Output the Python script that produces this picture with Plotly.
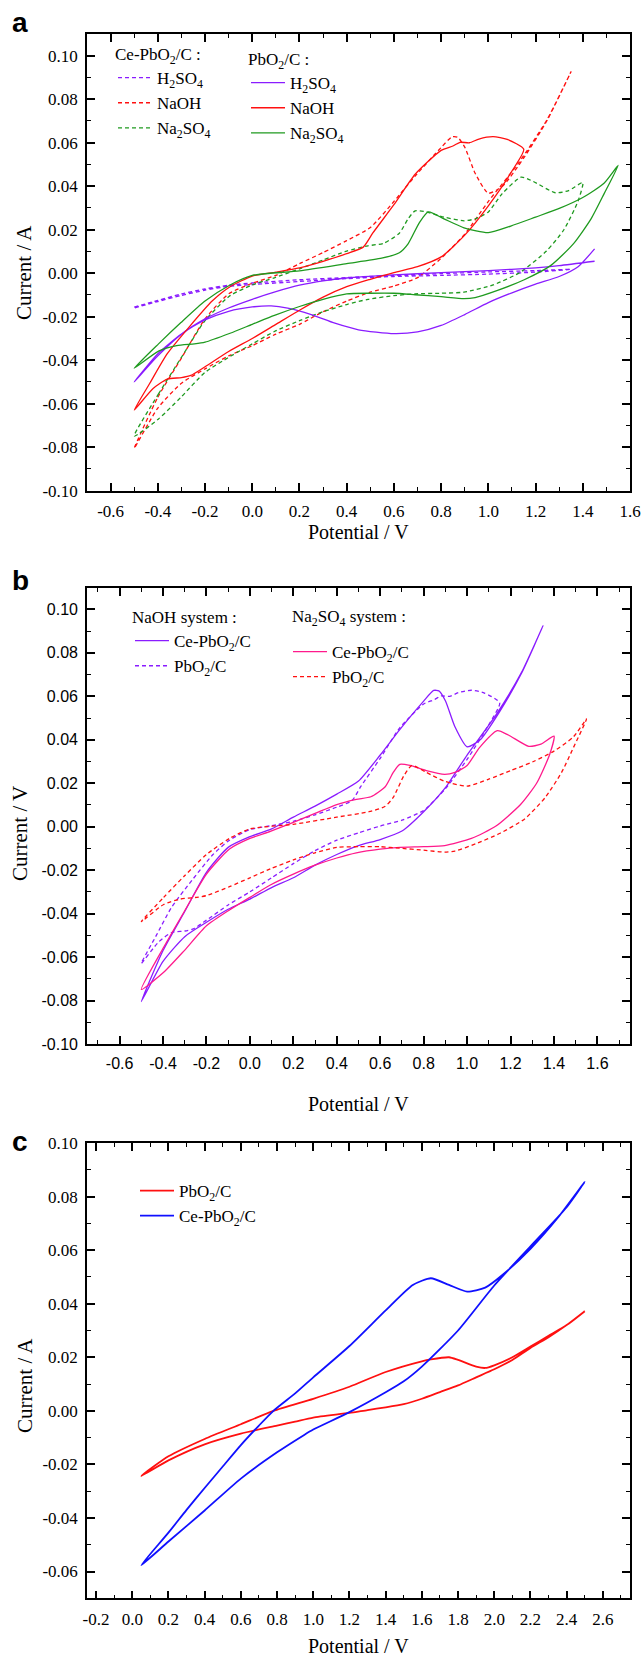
import plotly.graph_objects as go

W, H = 643, 1659

# ---------------- data (potential / V, current / A) ----------------
# Ce-PbO2/C in H2SO4
ce_h2so4_v = [-0.5, -0.4, -0.3, -0.2, -0.1, 0.0, 0.2, 0.4, 0.6, 0.8, 1.0, 1.2, 1.35,
              1.2, 1.0, 0.8, 0.6, 0.4, 0.2, 0.0, -0.1, -0.2, -0.3, -0.4, -0.5]
ce_h2so4_i = [-0.0156, -0.0125, -0.0095, -0.0072, -0.0055, -0.0045, -0.003, -0.002, -0.001, -0.0002, 0.0006, 0.0012, 0.0018,
              0.0005, -0.0004, -0.001, -0.0015, -0.0025, -0.0038, -0.0052, -0.006, -0.0078, -0.0102, -0.013, -0.016]

# PbO2/C in H2SO4
pb_h2so4_v = [1.45, 1.3, 1.2, 1.0, 0.8, 0.6, 0.4, 0.3, 0.2, 0.1, 0.0, -0.1, -0.2, -0.3, -0.4, -0.5,
              -0.4, -0.3, -0.2, -0.1, 0.0, 0.08, 0.15, 0.25, 0.35, 0.45, 0.6, 0.7, 0.8, 0.9, 1.0, 1.1, 1.2, 1.3, 1.38, 1.45]
pb_h2so4_i = [0.0055, 0.0035, 0.0025, 0.0012, 0.0003, -0.0008, -0.0022, -0.0035, -0.0055, -0.0085, -0.012, -0.016, -0.021, -0.028, -0.038, -0.050,
              -0.037, -0.028, -0.0215, -0.0175, -0.0155, -0.015, -0.016, -0.019, -0.023, -0.026, -0.0278, -0.027, -0.024, -0.019, -0.0135, -0.009, -0.005, -0.0015, 0.003, 0.0112]

# Ce-PbO2/C in NaOH
ce_naoh_v = [-0.5, -0.4, -0.3, -0.2, -0.1, 0.0, 0.1, 0.2, 0.3, 0.4, 0.5, 0.6, 0.69, 0.8, 0.846, 0.87, 0.9, 0.944, 1.0, 1.06, 1.15, 1.25, 1.35,
             1.25, 1.13, 1.0, 0.9, 0.8, 0.7, 0.6, 0.5, 0.4, 0.3, 0.2, 0.1, 0.0, -0.1, -0.2, -0.3, -0.4, -0.5]
ce_naoh_i = [-0.0805, -0.057, -0.039, -0.021, -0.0095, -0.0046, -0.001, 0.0044, 0.0095, 0.015, 0.021, 0.033, 0.0447, 0.0578, 0.0627, 0.0625, 0.058, 0.046, 0.0368, 0.040, 0.053, 0.0705, 0.0926,
             0.0709, 0.051, 0.033, 0.018, 0.0069, -0.002, -0.0059, -0.0087, -0.0128, -0.0177, -0.0235, -0.028, -0.0333, -0.038, -0.044, -0.0506, -0.062, -0.0805]

# PbO2/C in NaOH
pb_naoh_v = [-0.5, -0.434, -0.36, -0.264, -0.17, -0.094, 0.0, 0.1, 0.2, 0.3, 0.4, 0.47, 0.51, 0.6, 0.69, 0.8, 0.85, 0.88, 0.92, 0.96, 1.02, 1.08, 1.15,
             1.1, 1.0, 0.9, 0.8, 0.7, 0.6, 0.5, 0.4, 0.3, 0.2, 0.1, 0.0, -0.1, -0.2, -0.26, -0.3, -0.36, -0.42, -0.5]
pb_naoh_i = [-0.0629, -0.0506, -0.037, -0.0243, -0.0128, -0.0062, -0.0013, 0.0005, 0.0025, 0.0055, 0.009, 0.012, 0.0184, 0.0315, 0.0455, 0.0565, 0.0585, 0.0602, 0.060, 0.0617, 0.0628, 0.0615, 0.057,
             0.047, 0.031, 0.0175, 0.0075, 0.003, 0.0003, -0.0028, -0.0062, -0.011, -0.017, -0.0235, -0.030, -0.036, -0.043, -0.047, -0.048, -0.0487, -0.053, -0.0629]

# Ce-PbO2/C in Na2SO4
ce_na2so4_v = [-0.5, -0.397, -0.302, -0.2, -0.094, 0.0, 0.094, 0.2, 0.3, 0.4, 0.49, 0.557, 0.623, 0.66, 0.69, 0.737, 0.812, 0.897, 0.944, 1.0, 1.058, 1.139, 1.19, 1.284, 1.34, 1.4,
               1.38, 1.32, 1.246, 1.133, 1.02, 0.897, 0.8, 0.69, 0.6, 0.49, 0.4, 0.3, 0.2, 0.094, 0.0, -0.094, -0.2, -0.302, -0.397, -0.5]
ce_na2so4_i = [-0.0749, -0.0555, -0.039, -0.0218, -0.0103, -0.0054, -0.0021, 0.002, 0.0061, 0.0102, 0.0126, 0.0138, 0.0184, 0.025, 0.0287, 0.0282, 0.0258, 0.0241, 0.025, 0.0282, 0.0365, 0.0442, 0.0422, 0.037, 0.038, 0.0417,
               0.0332, 0.020, 0.0102, 0.0003, -0.0054, -0.0087, -0.0092, -0.0095, -0.0103, -0.012, -0.0144, -0.0177, -0.0218, -0.0268, -0.0325, -0.0383, -0.0456, -0.057, -0.067, -0.0749]

# PbO2/C in Na2SO4
pb_na2so4_v = [-0.5, -0.397, -0.302, -0.2, -0.094, 0.0, 0.2, 0.4, 0.548, 0.623, 0.66, 0.708, 0.746, 0.812, 0.897, 1.0, 1.095, 1.2, 1.303, 1.4, 1.49, 1.55,
               1.49, 1.435, 1.36, 1.265, 1.152, 1.039, 0.944, 0.897, 0.8, 0.69, 0.6, 0.5, 0.4, 0.3, 0.2, 0.094, 0.0, -0.094, -0.2, -0.245, -0.32, -0.397, -0.5]
pb_na2so4_i = [-0.0437, -0.0325, -0.0227, -0.0128, -0.0054, -0.001, 0.0011, 0.0044, 0.0069, 0.0094, 0.0135, 0.0233, 0.0282, 0.025, 0.0209, 0.0187, 0.0217, 0.0258, 0.0299, 0.0348, 0.0414, 0.0496,
               0.0365, 0.025, 0.0135, 0.0036, -0.003, -0.0079, -0.0112, -0.0117, -0.0108, -0.0099, -0.0092, -0.0092, -0.0095, -0.012, -0.0153, -0.0194, -0.0235, -0.0276, -0.0317, -0.0325, -0.0333, -0.0358, -0.0437]

# Panel c : PbO2/C
c_pb_v = [0.05, 0.2, 0.4, 0.6, 0.78, 1.0, 1.2, 1.4, 1.6, 1.65, 1.75, 1.8, 1.9, 1.95, 2.0, 2.1, 2.2, 2.3, 2.4, 2.5,
          2.4, 2.3, 2.2, 2.1, 2.0, 1.9, 1.8, 1.7, 1.6, 1.5, 1.4, 1.3, 1.2, 1.0, 0.9, 0.8, 0.6, 0.4, 0.2, 0.05]
c_pb_i = [-0.0243, -0.017, -0.0105, -0.005, 0.0, 0.0045, 0.009, 0.0145, 0.0185, 0.0192, 0.020, 0.019, 0.0165, 0.016, 0.017, 0.020, 0.024, 0.028, 0.032, 0.0372,
          0.032, 0.0275, 0.0235, 0.019, 0.0155, 0.0125, 0.0095, 0.007, 0.0045, 0.0025, 0.0013, 0.0003, -0.0008, -0.0025, -0.004, -0.0055, -0.0085, -0.0125, -0.0185, -0.0243]

# Panel c : Ce-PbO2/C
c_ce_v = [0.05, 0.2, 0.3, 0.4, 0.5, 0.6, 0.7, 0.78, 0.9, 1.0, 1.2, 1.4, 1.55, 1.65, 1.75, 1.85, 1.95, 2.05, 2.2, 2.35, 2.5,
          2.4, 2.2, 2.0, 1.8, 1.6, 1.5, 1.4, 1.2, 1.0, 0.95, 0.8, 0.6, 0.4, 0.2, 0.05]
c_ce_i = [-0.0576, -0.0455, -0.037, -0.0288, -0.0208, -0.0128, -0.0055, 0.0, 0.0065, 0.0125, 0.0242, 0.0375, 0.047, 0.0495, 0.047, 0.0445, 0.046, 0.051, 0.0605, 0.072, 0.0855,
          0.076, 0.0614, 0.0468, 0.030, 0.0165, 0.011, 0.0069, -0.0005, -0.007, -0.009, -0.0155, -0.0253, -0.0372, -0.0488, -0.0576]

# tick labels
ab_xticks = [-0.6, -0.4, -0.2, 0.0, 0.2, 0.4, 0.6, 0.8, 1.0, 1.2, 1.4, 1.6]
ab_xlabels = ["-0.6", "-0.4", "-0.2", "0.0", "0.2", "0.4", "0.6", "0.8", "1.0", "1.2", "1.4", "1.6"]
ab_yticks = [-0.10, -0.08, -0.06, -0.04, -0.02, 0.0, 0.02, 0.04, 0.06, 0.08, 0.10]
ab_ylabels = ["-0.10", "-0.08", "-0.06", "-0.04", "-0.02", "0.00", "0.02", "0.04", "0.06", "0.08", "0.10"]
c_xticks = [-0.2, 0.0, 0.2, 0.4, 0.6, 0.8, 1.0, 1.2, 1.4, 1.6, 1.8, 2.0, 2.2, 2.4, 2.6]
c_xlabels = ["-0.2", "0.0", "0.2", "0.4", "0.6", "0.8", "1.0", "1.2", "1.4", "1.6", "1.8", "2.0", "2.2", "2.4", "2.6"]
c_yticks = [-0.06, -0.04, -0.02, 0.0, 0.02, 0.04, 0.06, 0.08, 0.10]
c_ylabels = ["-0.06", "-0.04", "-0.02", "0.00", "0.02", "0.04", "0.06", "0.08", "0.10"]

# ---------------- styling ----------------
SERIF = "Liberation Serif"
SANS = "Liberation Sans"
PURPLE = "#8a1cff"
RED = "#ff1010"
GREEN = "#1f9a1f"
PINK = "#ff1a8c"
BLUE = "#1010ff"
DASH = "4px,3px"

fig = go.Figure()


def add(xa, ya, v, i, color, dash, name, legend, group, width=1.3):
    fig.add_trace(go.Scatter(
        x=v, y=i, mode="lines", name=name, legend=legend, legendgroup=group,
        line=dict(color=color, dash=dash, width=width, shape="spline", smoothing=0.6),
        xaxis=xa, yaxis=ya, hoverinfo="skip"))


H2 = "H<sub>2</sub>SO<sub>4</sub>"
NA = "Na<sub>2</sub>SO<sub>4</sub>"
CE = "Ce-PbO<sub>2</sub>/C"
PB = "PbO<sub>2</sub>/C"

# panel a
add("x", "y", ce_h2so4_v, ce_h2so4_i, PURPLE, DASH, H2, "legend", "a1")
add("x", "y", ce_naoh_v, ce_naoh_i, RED, DASH, "NaOH", "legend", "a2")
add("x", "y", ce_na2so4_v, ce_na2so4_i, GREEN, DASH, NA, "legend", "a3")
add("x", "y", pb_h2so4_v, pb_h2so4_i, PURPLE, "solid", H2, "legend2", "a4")
add("x", "y", pb_naoh_v, pb_naoh_i, RED, "solid", "NaOH", "legend2", "a5")
add("x", "y", pb_na2so4_v, pb_na2so4_i, GREEN, "solid", NA, "legend2", "a6")
# panel b
add("x2", "y2", ce_naoh_v, ce_naoh_i, PURPLE, "solid", CE, "legend3", "b1")
add("x2", "y2", pb_naoh_v, pb_naoh_i, PURPLE, DASH, PB, "legend3", "b2")
add("x2", "y2", ce_na2so4_v, ce_na2so4_i, PINK, "solid", CE, "legend4", "b3")
add("x2", "y2", pb_na2so4_v, pb_na2so4_i, RED, DASH, PB, "legend4", "b4")
# panel c
add("x3", "y3", c_pb_v, c_pb_i, RED, "solid", PB, "legend5", "c1", width=1.8)
add("x3", "y3", c_ce_v, c_ce_i, BLUE, "solid", CE, "legend5", "c2", width=1.8)


def px(x):
    return x / W


def py(y):
    return 1 - y / H


def axis(domain, rng, tickvals, ticktext, minor_dtick, family, size, anchor):
    return dict(domain=domain, range=rng, anchor=anchor, tickmode="array", tickvals=tickvals, ticktext=ticktext,
                showline=True, linecolor="black", linewidth=1.6, mirror="allticks",
                ticks="inside", ticklen=8, tickwidth=1.6, tickcolor="black",
                minor=dict(tickmode="linear", tick0=0, dtick=minor_dtick, ticks="inside", ticklen=4,
                           tickwidth=1.4, tickcolor="black"),
                showgrid=False, zeroline=False, showticklabels=True,
                tickfont=dict(family=family, size=size, color="black"),
                ticklabelstandoff=4)


xdom = [px(87), px(630)]
layout = dict(
    template="none",
    width=W, height=H, autosize=False, margin=dict(l=0, r=0, t=0, b=0, pad=0, autoexpand=False),
    paper_bgcolor="white", plot_bgcolor="white", showlegend=True,
    font=dict(family=SERIF, size=17, color="black"),
    xaxis=axis(xdom, [-0.7, 1.6], ab_xticks, ab_xlabels, 0.1, SERIF, 17, "y"),
    yaxis=axis([py(490.7), py(34)], [-0.10, 0.11], ab_yticks, ab_ylabels, 0.01, SERIF, 17, "x"),
    xaxis2=axis(xdom, [-0.75, 1.75], ab_xticks, ab_xlabels, 0.1, SANS, 16, "y2"),
    yaxis2=axis([py(1044), py(587.7)], [-0.10, 0.11], ab_yticks, ab_ylabels, 0.01, SANS, 16, "x2"),
    xaxis3=axis(xdom, [-0.25, 2.75], c_xticks, c_xlabels, 0.1, SERIF, 17, "y3"),
    yaxis3=axis([py(1598.3), py(1143)], [-0.07, 0.10], c_yticks, c_ylabels, 0.01, SERIF, 17, "x3"),
)


def leg(x, y, title=None, gap=6):
    d = dict(x=px(x), y=py(y), xanchor="left", yanchor="top", bgcolor="rgba(0,0,0,0)",
             font=dict(family=SERIF, size=17, color="black"), tracegroupgap=gap, itemwidth=34,
             traceorder="normal", borderwidth=0)
    if title:
        d["title"] = dict(text=title, side="top", font=dict(family=SERIF, size=17, color="black"))
    return d


layout["legend"] = leg(113, 38, CE + " :")
layout["legend2"] = leg(246, 43, PB + " :", gap=8)
layout["legend3"] = leg(130, 601, "NaOH system :", gap=8)
layout["legend4"] = leg(288, 634, None, gap=8)
layout["legend5"] = leg(135, 1173, gap=8)

ann = []
# header of the Na2SO4 legend block in panel b
ann.append(dict(text=NA + " system :", x=px(290), y=py(618), xref="paper", yref="paper", xanchor="left",
                yanchor="middle", showarrow=False, font=dict(family=SERIF, size=17, color="black")))
for t, y in (("a", 22), ("b", 580), ("c", 1141)):
    ann.append(dict(text=t, x=px(10), y=py(y), xref="paper", yref="paper", xanchor="left", yanchor="middle",
                    showarrow=False, font=dict(family=SANS, size=28, color="black", weight="bold")))
for y in (532, 1104, 1646):
    ann.append(dict(text="Potential / V", x=px(358), y=py(y), xref="paper", yref="paper", xanchor="center",
                    yanchor="middle", showarrow=False, font=dict(family=SERIF, size=20, color="black")))
for t, x, y in (("Current / A", 24, 273), ("Current / V", 20, 834), ("Current / A", 25, 1386)):
    ann.append(dict(text=t, x=px(x), y=py(y), xref="paper", yref="paper", xanchor="center", yanchor="middle",
                    textangle=-90, showarrow=False, font=dict(family=SERIF, size=21, color="black")))
layout["annotations"] = ann

fig.update_layout(**layout)
for name, fam, size in (("xaxis", SERIF, 17), ("yaxis", SERIF, 17), ("xaxis2", SANS, 16),
                        ("yaxis2", SANS, 16), ("xaxis3", SERIF, 17), ("yaxis3", SERIF, 17)):
    fig.layout[name].tickfont = dict(family=fam, size=size, color="black")
fig.write_html("out.html")
